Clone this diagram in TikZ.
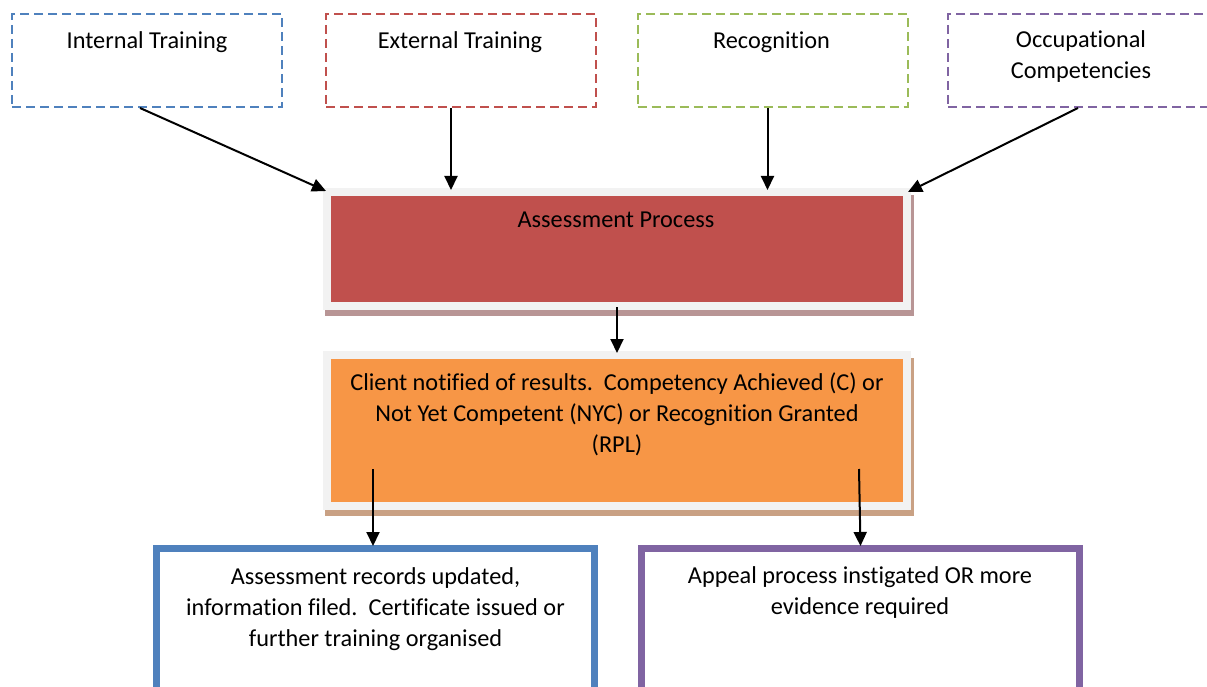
\documentclass[tikz,border=0pt]{standalone}
\usepackage{fontspec}
\setmainfont{Carlito}[Ligatures=NoCommon]
\usetikzlibrary{arrows.meta,calc,backgrounds}
\definecolor{cblue}{HTML}{4F81BD}
\definecolor{cred}{HTML}{C0504D}
\definecolor{cgreen}{HTML}{9BBB59}
\definecolor{cpurple}{HTML}{8064A2}
\definecolor{corange}{HTML}{F79646}
\definecolor{framegrey}{HTML}{F2F2F2}
\definecolor{shred}{HTML}{B89595}
\definecolor{shorange}{HTML}{C9A184}
\begin{document}
\begin{tikzpicture}[x=1pt,y=-1pt,
  topbox/.style={draw=#1, line width=2pt, dash pattern=on 9pt off 5pt, minimum width=270pt, minimum height=93pt, inner sep=0pt},
  midbox/.style={draw=framegrey, fill=#1, line width=8pt, minimum width=580pt, inner sep=0pt},
  botbox/.style={draw=#1, line width=7pt, minimum width=438pt, minimum height=160pt, inner sep=0pt},
  txt/.style={font=\fontsize{24.3}{31}\selectfont, align=center, inner sep=0pt, anchor=base},
  arr/.style={line width=2pt, -{Triangle[length=14pt,width=13pt]}}]
\useasboundingbox (0,0) rectangle (1207,687);
\clip (0,0) rectangle (1207,687);

% top boxes
\node[topbox=cblue]   (it) at (147,60.5) {};
\node[topbox=cred]    (et) at (461,60.5) {};
\node[topbox=cgreen]  (rc) at (772.5,60.5) {};
\node[topbox=cpurple] (oc) at (1083,60.5) {};

% middle boxes
\node[midbox=cred, minimum height=114pt] (ap) at (617,249) {};
\node[midbox=corange, minimum height=151pt] (cn) at (617,430.5) {};
\begin{scope}[on background layer]
  \fill[shred] ($(ap.north west)+(2,7)$) rectangle ($(ap.south east)+(3,6)$);
  \fill[shorange] ($(cn.north west)+(2,7)$) rectangle ($(cn.south east)+(3,6)$);
\end{scope}

% bottom boxes
\node[botbox=cblue]   (lb) at (375.5,628.5) {};
\node[botbox=cpurple] (rb) at (860,628.5) {};

% texts (base anchor = baseline of the last line)
\node[txt] (itT) at (147,49) {Internal Training};
\node[txt] (etT) at (460,49) {External Training};
\node[txt] (rcT) at (771.5,49) {Recognition};
\node[txt] (ocT) at (1081,79) {Occupational\\Competencies};
\node[txt] (apT) at (616,227) {Assessment Process};
\node[txt] (cnT) at (617,452) {Client notified of results.\ \ Competency Achieved (C) or\\Not Yet Competent (NYC) or Recognition Granted\\(RPL)};
\node[txt] (lbT) at (375.5,646) {Assessment records updated,\\information filed.\ \ Certificate issued or\\further training organised};
\node[txt] (rbT) at (860,614) {Appeal process instigated OR more\\evidence required};

% connectors
\draw[arr] ($(it.south)+(-7,0)$) -- ($(ap.north west)+(3,3)$);
\draw[arr] ($(et.south)+(-10,0)$) -- ($(ap.north)+(-166,2)$);
\draw[arr] ($(rc.south)+(-5,0)$) -- ($(ap.north)+(150.5,2)$);
\draw[arr] ($(oc.south)+(-5,0)$) -- ($(ap.north east)+(-3,4)$);
\draw[arr] ($(ap.south)+(0,-3)$) -- ($(cn.north)+(0,2)$);
\draw[arr] ($(cn.south)+(-244,-41)$) -- ($(lb.north)+(-2.5,1)$);
\draw[arr] ($(cn.south)+(242,-41)$) -- ($(rb.north)+(0.5,1)$);
\end{tikzpicture}
\end{document}
